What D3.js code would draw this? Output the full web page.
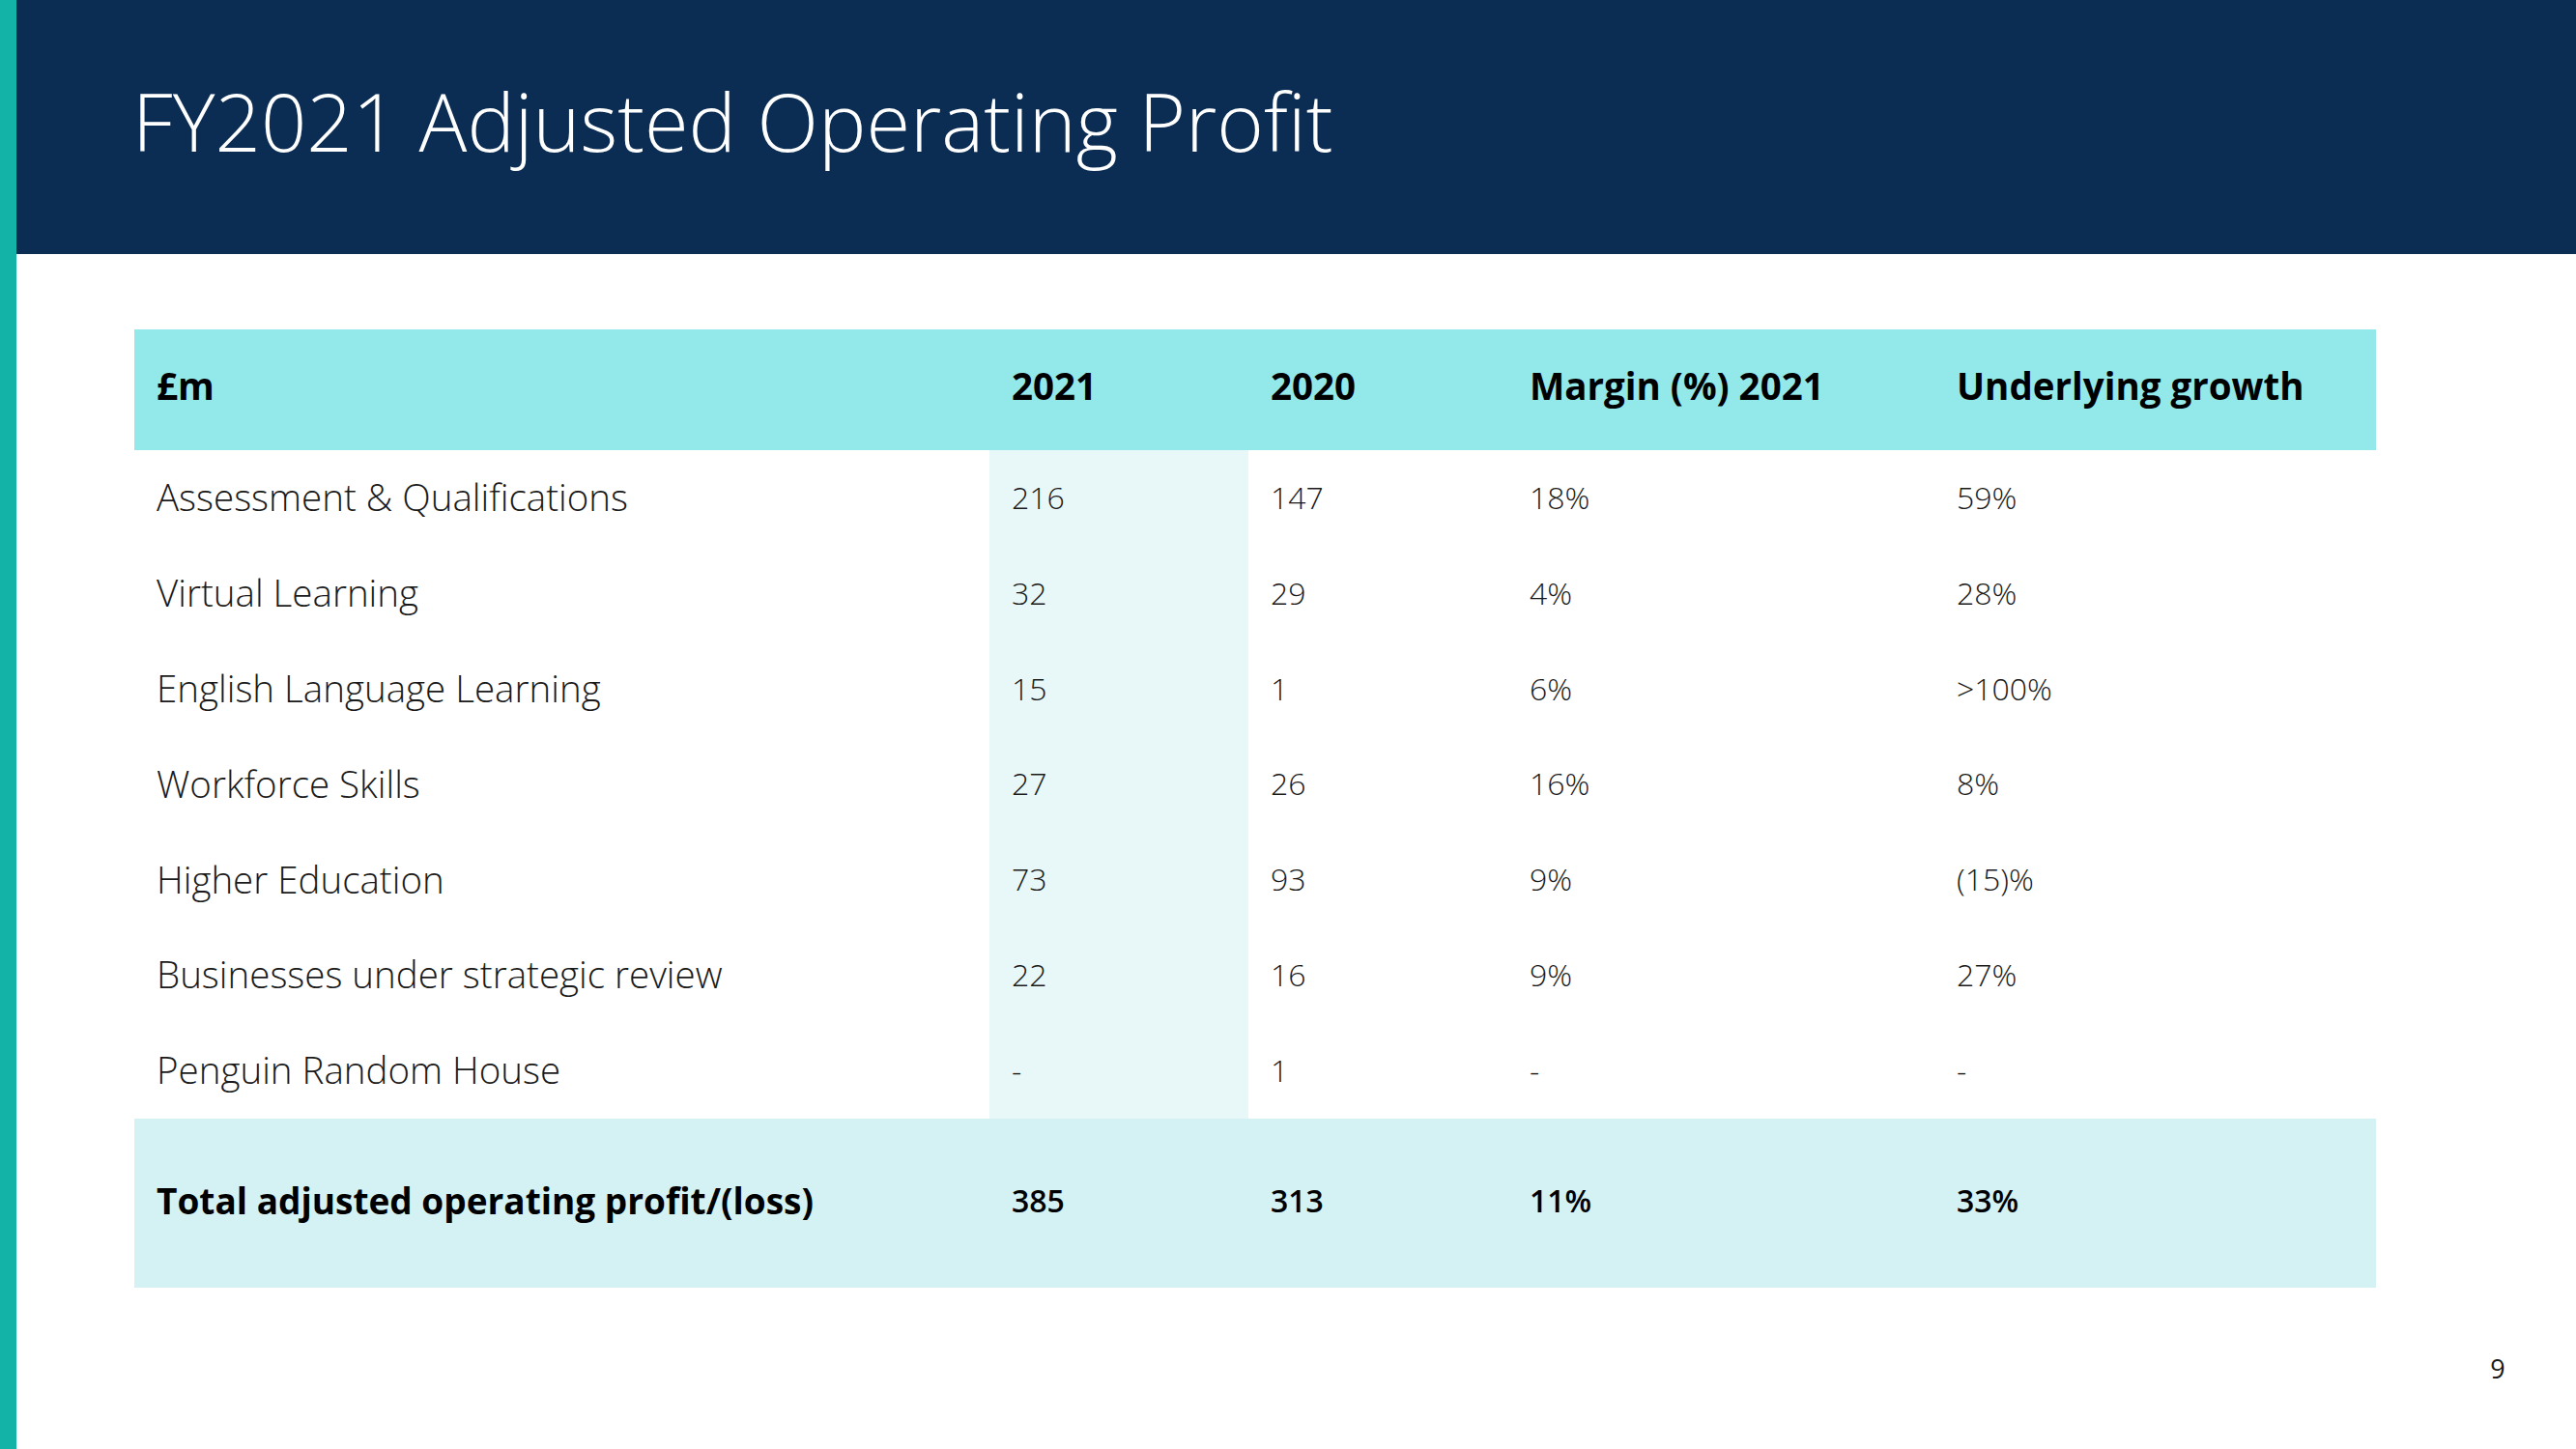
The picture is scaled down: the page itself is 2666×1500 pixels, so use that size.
<!DOCTYPE html>
<html>
<head>
<meta charset="utf-8">
<script src="https://cdn.jsdelivr.net/npm/d3@7"></script>
<style>
  html, body { margin: 0; padding: 0; background: #ffffff; }
  svg { display: block; font-family: "Open Sans", "Noto Sans", sans-serif; }
</style>
</head>
<body>
<svg id="chart" width="2666" height="1500"></svg>
<script>
// ---- data ----
const title = "FY2021 Adjusted Operating Profit";
const headers = ["£m", "2021", "2020", "Margin (%) 2021", "Underlying growth"];
const categories = [
  "Assessment & Qualifications",
  "Virtual Learning",
  "English Language Learning",
  "Workforce Skills",
  "Higher Education",
  "Businesses under strategic review",
  "Penguin Random House"
];
const profit2021 = [216, 32, 15, 27, 73, 22, null];
const profit2020 = [147, 29, 1, 26, 93, 16, 1];
const margin2021 = [18, 4, 6, 16, 9, 9, null];
const growth = ["59%", "28%", ">100%", "8%", "(15)%", "27%", "-"];
const totalLabel = "Total adjusted operating profit/(loss)";
const total2021 = 385;
const total2020 = 313;
const totalMargin = 11;
const totalGrowth = "33%";
const pageNumber = "9";

// ---- layout ----
const W = 2666, H = 1500;
const svg = d3.select("#chart");
const colKeys = ["label", "y2021", "y2020", "margin", "growth"];
const colWidths = [885, 268, 268, 442, 457];
const tableLeft = 139;
const colEdges = colWidths.reduce((acc, w) => { acc.push(acc[acc.length - 1] + w); return acc; }, [tableLeft]);
const xCol = d3.scaleOrdinal().domain(colKeys).range(colEdges.slice(0, -1));
const wCol = d3.scaleOrdinal().domain(colKeys).range(colWidths);
const tableRight = colEdges[colEdges.length - 1];
const pad = 23;

const headTop = 341, headBottom = 466, totalTop = 1158, totalBottom = 1333;
const y = d3.scaleBand().domain(categories).range([headBottom, totalTop]).paddingInner(0).paddingOuter(0);

const fmtNum = v => v == null ? "-" : d3.format("d")(v);
const fmtPct = v => v == null ? "-" : d3.format("d")(v) + "%";

// background bars
svg.append("rect").attr("x", 0).attr("y", 0).attr("width", W).attr("height", H).attr("fill", "#ffffff");
svg.append("rect").attr("x", 17).attr("y", 0).attr("width", W - 17).attr("height", 263).attr("fill", "#0b2d54");
svg.append("rect").attr("x", 0).attr("y", 0).attr("width", 17).attr("height", H).attr("fill", "#14b3a8");

svg.append("text")
  .attr("x", 137).attr("y", 157)
  .attr("fill", "#ffffff")
  .attr("font-size", 83).attr("font-weight", 300)
  .text(title);

// header row
svg.append("rect")
  .attr("x", tableLeft).attr("y", headTop)
  .attr("width", tableRight - tableLeft).attr("height", headBottom - headTop)
  .attr("fill", "#93e8ea");

// 2021 column tint
svg.append("rect")
  .attr("x", xCol("y2021")).attr("y", headBottom)
  .attr("width", wCol("y2021")).attr("height", totalTop - headBottom)
  .attr("fill", "#e8f8f8");

// total row
svg.append("rect")
  .attr("x", tableLeft).attr("y", totalTop)
  .attr("width", tableRight - tableLeft).attr("height", totalBottom - totalTop)
  .attr("fill", "#d4f2f4");

// header text
svg.append("g").selectAll("text")
  .data(headers)
  .join("text")
  .attr("x", (d, i) => xCol(colKeys[i]) + pad)
  .attr("y", 400)
  .attr("dy", "0.357em")
  .attr("fill", "#000000")
  .attr("font-size", 38.5).attr("font-weight", 700)
  .text(d => d);

// body rows
const rows = categories.map((c, i) => ({
  label: c,
  y2021: fmtNum(profit2021[i]),
  y2020: fmtNum(profit2020[i]),
  margin: fmtPct(margin2021[i]),
  growth: growth[i]
}));

const rowG = svg.append("g").selectAll("g")
  .data(rows)
  .join("g")
  .attr("transform", d => `translate(0,${y(d.label) + y.bandwidth() / 2})`);

rowG.append("text")
  .attr("x", xCol("label") + pad)
  .attr("dy", "0.357em")
  .attr("fill", "#1a1a1a")
  .attr("font-size", 38.5).attr("font-weight", 300)
  .text(d => d.label);

colKeys.slice(1).forEach(k => {
  rowG.append("text")
    .attr("x", xCol(k) + pad)
    .attr("dy", "0.357em")
    .attr("fill", "#1a1a1a")
    .attr("font-size", 32).attr("font-weight", 300)
    .text(d => d[k]);
});

// total row text
const totalCy = (totalTop + totalBottom) / 2 - 2;
svg.append("text")
  .attr("x", xCol("label") + pad).attr("y", totalCy).attr("dy", "0.357em")
  .attr("fill", "#000000").attr("font-size", 37).attr("font-weight", 700)
  .text(totalLabel);
const totalVals = [fmtNum(total2021), fmtNum(total2020), fmtPct(totalMargin), totalGrowth];
svg.append("g").selectAll("text")
  .data(totalVals)
  .join("text")
  .attr("x", (d, i) => xCol(colKeys[i + 1]) + pad)
  .attr("y", totalCy).attr("dy", "0.357em")
  .attr("fill", "#000000").attr("font-size", 32).attr("font-weight", 600)
  .text(d => d);

// page number
svg.append("text")
  .attr("x", 2585).attr("y", 1427)
  .attr("text-anchor", "middle")
  .attr("fill", "#1a1a1a").attr("font-size", 27).attr("font-weight", 400)
  .text(pageNumber);
</script>
</body>
</html>
